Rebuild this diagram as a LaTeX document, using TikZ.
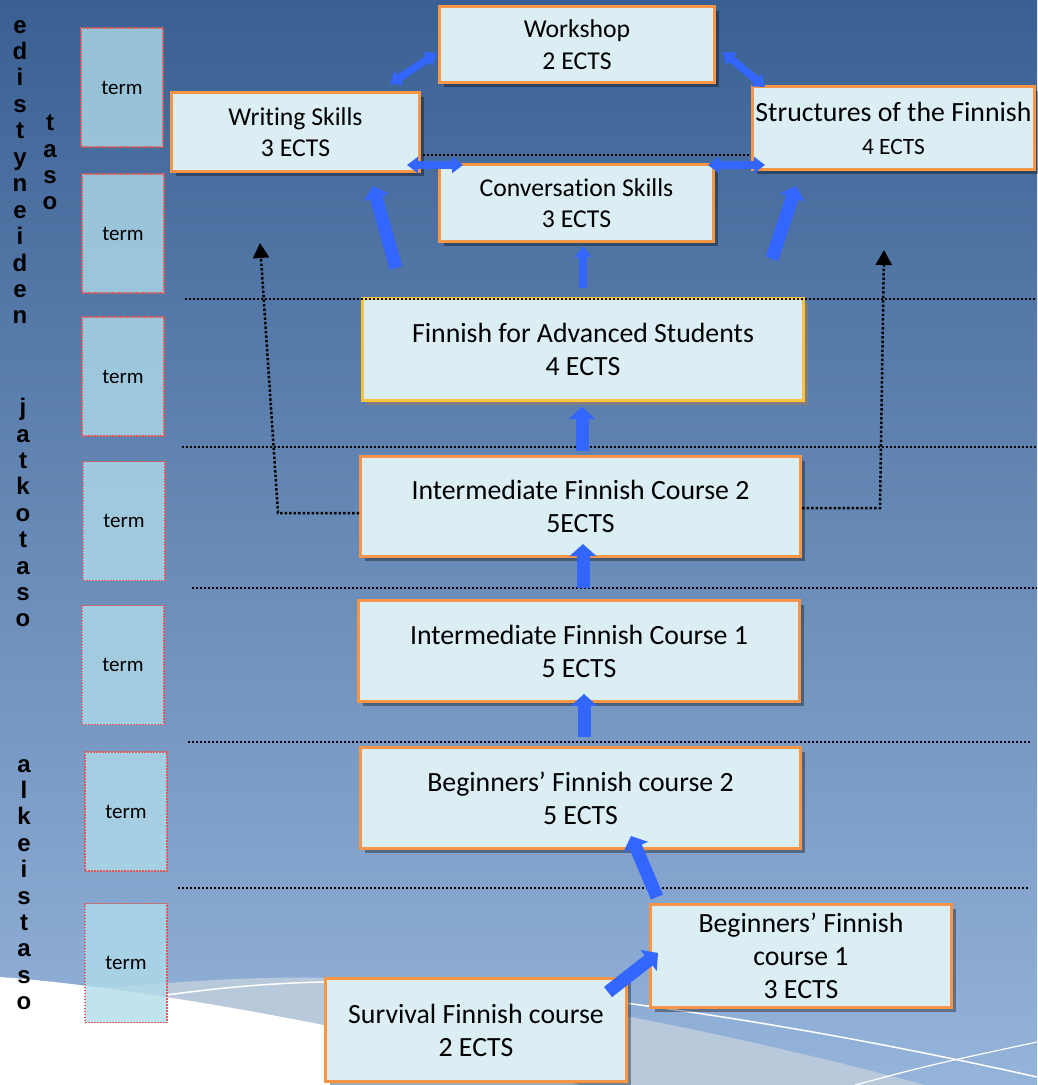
\documentclass[tikz,border=0pt]{standalone}
\usepackage{fontspec}
\setmainfont{Carlito}[Ligatures=NoCommon]
\newfontfamily\letterfont{Liberation Sans}
\usetikzlibrary{arrows.meta,shadows}
\definecolor{bgtop}{HTML}{3A6093}
\definecolor{bgbot}{HTML}{95B4DA}
\definecolor{boxfill}{HTML}{DAEEF3}
\definecolor{boxorange}{HTML}{F79646}
\definecolor{boxyellow}{HTML}{FAC43E}
\definecolor{termfill}{HTML}{B0DCEA}
\definecolor{termborder}{HTML}{E05A5A}
\definecolor{arrowblue}{HTML}{3366FF}
\definecolor{swooshgray}{HTML}{B8C9DC}
\newcommand\crsbig{\fontsize{27.8}{33}\selectfont}
\newcommand\crstop{\fontsize{25.7}{31.5}\selectfont}
\newcommand\crsmid{\fontsize{23.4}{28}\selectfont}
\newcommand\termfnt{\fontsize{21}{25}\selectfont}
\tikzset{
  termbox/.style={draw=termborder, line width=1.3pt, dash pattern=on 1.6pt off 1.4pt,
    fill=termfill, fill opacity=0.78, text opacity=1, minimum width=82pt,
    minimum height=119pt, inner sep=0pt, font=\termfnt},
  coursebox/.style={draw=boxorange, line width=3pt, fill=boxfill, inner sep=0pt,
    align=center, font=\crsbig,
    drop shadow={shadow xshift=4pt, shadow yshift=-4pt, opacity=0.35, fill=black}},
  advbox/.style={draw=boxyellow, line width=3pt, fill=boxfill, inner sep=0pt,
    align=center, font=\crsbig,
    drop shadow={shadow xshift=4pt, shadow yshift=-4pt, opacity=0.3, fill=orange!60!brown}},
  vletter/.style={anchor=base, inner sep=0pt, font=\letterfont\bfseries\fontsize{24}{24}\selectfont},
  sepline/.style={draw=black, line width=2pt, dash pattern=on 2pt off 2pt},
  elbow/.style={draw=black, line width=2.5pt, dash pattern=on 2.5pt off 2pt,
    -{Triangle[width=16pt,length=15pt]}},
  bthick/.style={draw=arrowblue, line width=13pt, -{Triangle[width=26pt,length=12pt]}},
  bthin/.style={draw=arrowblue, line width=7.5pt, -{Triangle[width=16pt,length=11pt]}},
  bdouble/.style={draw=arrowblue, line width=7.5pt,
    {Triangle[width=16pt,length=11pt]}-{Triangle[width=16pt,length=11pt]}}
}
\begin{document}
\begin{tikzpicture}[x=1pt,y=-1pt]
% background
\shade[top color=bgtop, bottom color=bgbot] (0,0) rectangle (1037,1085);
\useasboundingbox (0,0) rectangle (1037,1085);
% swoosh
\fill[swooshgray] (120,987) .. controls (220,978) and (300,975) .. (380,980)
  .. controls (520,990) and (760,1040) .. (925,1085) -- (0,1085) -- (0,990) -- cycle;
\fill[white] (0,977) .. controls (150,988) and (400,1035) .. (580,1085) -- (0,1085) -- cycle;
\draw[white, line width=1.5pt] (167,995) .. controls (260,982) and (340,979) .. (430,984)
  .. controls (620,995) and (850,1035) .. (1037,1077);
\draw[white, line width=1.2pt] (855,1085) .. controls (930,1065) .. (1037,1042);

% vertical level labels
\foreach \l [count=\i from 0] in {e,d,i,s,t,y,n,e,i,d,e,n}
  \node[vletter] (ed\i) at (20,{33+26.45*\i}) {\l};
\foreach \l [count=\i from 0] in {t,a,s,o}
  \node[vletter] (ta\i) at (50,{130.6+26.45*\i}) {\l};
\foreach \l [count=\i from 0] in {j,a,t,k,o,t,a,s,o}
  \node[vletter] (ja\i) at (23,{415.6+26.4*\i}) {\l};
\foreach \l [count=\i from 0] in {a,l,k,e,i,s,t,a,s,o}
  \node[vletter] (al\i) at (24,{772+26.4*\i}) {\l};

% term boxes
\node[termbox] (t1) at (122,87.5) {term};
\node[termbox] (t2) at (123,233.5) {term};
\node[termbox] (t3) at (123,376.5) {term};
\node[termbox] (t4) at (124,521) {term};
\node[termbox] (t5) at (123,665) {term};
\node[termbox] (t6) at (126,811.5) {term};
\node[termbox] (t7) at (126,963) {term};

% separator lines
\draw[sepline] (423,155) -- (750,155);
\draw[sepline] (182,447) -- (1037,447);
\draw[sepline] (192,588) -- (1037,588);
\draw[sepline] (188,742) -- (1030,742);
\draw[sepline] (178,888) -- (1030,888);

% course boxes
\node[coursebox, font=\crstop, minimum width=275pt, minimum height=76pt] (ws) at (577,44.5) {Workshop\\2 ECTS};
\node[coursebox, font=\crstop, minimum width=248pt, minimum height=79pt] (wr) at (295.5,132) {Writing Skills\\3 ECTS};
\node[coursebox, font=\crstop, minimum width=274pt, minimum height=77pt] (cv) at (576.5,203) {Conversation Skills\\3 ECTS};
\node[coursebox, minimum width=282pt, minimum height=83pt] (st) at (893.5,128) {Structures of the Finnish\\{\crsmid 4 ECTS}};
\node[advbox, minimum width=441pt, minimum height=102pt] (adv) at (583,349.5) {Finnish for Advanced Students\\4 ECTS};
\node[coursebox, minimum width=440pt, minimum height=100pt] (i2) at (580.5,506.5) {Intermediate Finnish Course 2\\5ECTS};
\node[coursebox, minimum width=441pt, minimum height=101pt] (i1) at (579,651) {Intermediate Finnish Course 1\\5 ECTS};
\node[coursebox, minimum width=440pt, minimum height=101pt] (b2) at (580.5,798) {Beginners’ Finnish course 2\\5 ECTS};
\node[coursebox, minimum width=301pt, minimum height=103pt] (b1) at (801,956) {Beginners’ Finnish\\course 1\\3 ECTS};
\node[coursebox, minimum width=301pt, minimum height=103pt] (sv) at (476,1030) {Survival Finnish course\\2 ECTS};

\draw[sepline] (185,299) -- (1037,299);

% dotted elbow arrows
\coordinate (lturn) at (278,513);
\coordinate (ltip) at (260,243);
\coordinate (rturn) at (880,508);
\coordinate (rtip) at (884,250);
\draw[elbow] ([yshift=-6.5pt]i2.west) -- (lturn) -- (ltip);
\draw[elbow] ([yshift=-1.5pt]i2.east) -- (rturn) -- (rtip);

% blue arrows
\coordinate (a1s) at (608,992);  \coordinate (a1e) at (658,953);
\coordinate (a2s) at (657,897);  \coordinate (a2e) at (631,836);
\coordinate (a3s) at (584,737);  \coordinate (a3e) at (584,694);
\coordinate (a4s) at (583,588);  \coordinate (a4e) at (583,544);
\coordinate (a5s) at (582,451);  \coordinate (a5e) at (582,407);
\coordinate (a6s) at (583,288);  \coordinate (a6e) at (583,246);
\coordinate (a7s) at (396,268);  \coordinate (a7e) at (373,186);
\coordinate (a8s) at (772,259);  \coordinate (a8e) at (796,186);
\coordinate (a9s) at (390,84);   \coordinate (a9e) at (437,53);
\coordinate (a10s) at (723,52);  \coordinate (a10e) at (765,87);
\coordinate (a11s) at (407,165); \coordinate (a11e) at (463,165);
\coordinate (a12s) at (708,165); \coordinate (a12e) at (765,165);
\draw[bthick] (a1s) -- (a1e);
\draw[bthick] (a2s) -- (a2e);
\draw[bthick] (a3s) -- (a3e);
\draw[bthick] (a4s) -- (a4e);
\draw[bthick] (a5s) -- (a5e);
\draw[bthin] (a6s) -- (a6e);
\draw[bthick] (a7s) -- (a7e);
\draw[bthick] (a8s) -- (a8e);
\draw[bdouble] (a9s) -- (a9e);
\draw[bdouble] (a10s) -- (a10e);
\draw[bdouble] (a11s) -- (a11e);
\draw[bdouble] (a12s) -- (a12e);
\end{tikzpicture}
\end{document}
